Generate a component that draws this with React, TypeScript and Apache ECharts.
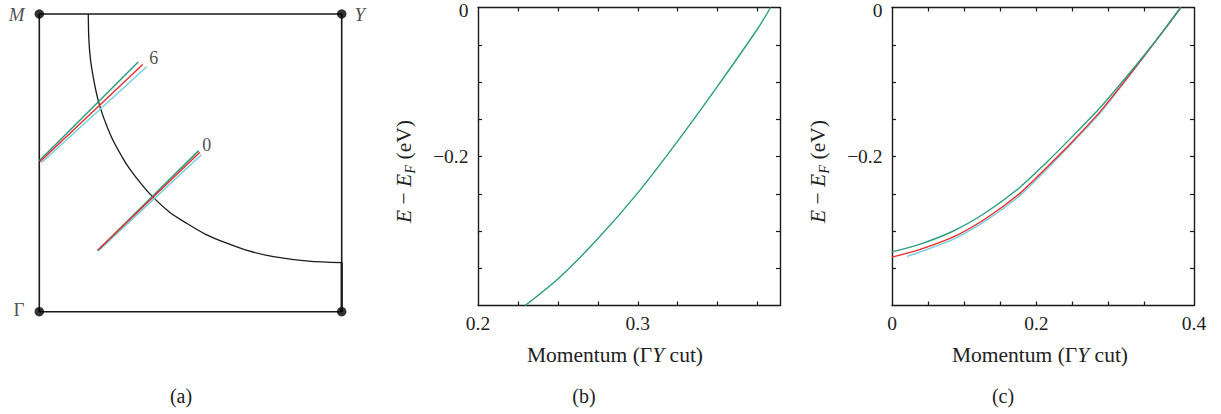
import React, { useEffect, useRef } from "react";
import * as echarts from "echarts";

const FONT = "'Liberation Serif', 'DejaVu Serif', serif";
const INK = "#1a1a1a";
const TXT = "#222";
const GREEN = "#2a9f7e";
const RED = "#f02a2a";
const CYAN = "#74cfe2";

// ---------- Panel (a): Brillouin-zone quadrant ----------
const bzSquare = [[0, 0], [0, 1], [1, 1], [1, 0], [0, 0]];
const bzCorners = [[0, 1], [1, 1], [0, 0], [1, 0]];
const bzCornerLabels = ["M", "Y", "Γ", ""];
const fsArc = [
  [0.162, 1.0], [0.164, 0.913], [0.1715, 0.83], [0.196, 0.705], [0.237, 0.59],
  [0.276, 0.516], [0.3, 0.478], [0.335, 0.432], [0.372, 0.389], [0.43, 0.335],
  [0.487, 0.297], [0.55, 0.26], [0.62, 0.23], [0.69, 0.205], [0.774, 0.185],
  [0.89, 0.17], [1.0, 0.165],
];
const fsEdge = [[1.0, 0.165], [1.0, 0.0]];
const cut6Green = [[0.0, 0.507], [0.327, 0.839]];
const cut6Red = [[0.002, 0.504], [0.342, 0.83]];
const cut6Cyan = [[0.008, 0.501], [0.355, 0.823]];
const cut0Green = [[0.192, 0.205], [0.527, 0.541]];
const cut0Red = [[0.194, 0.207], [0.531, 0.536]];
const cut0Cyan = [[0.196, 0.205], [0.536, 0.527]];
const cutLabels = ["6", "0"];

// ---------- Panel (b) ----------
const bCurve = [
  [0.2295, -0.4], [0.2503, -0.3638], [0.2751, -0.3101], [0.3, -0.2488],
  [0.3246, -0.1804], [0.3503, -0.1045], [0.3751, -0.0282], [0.3831, 0],
];
const bXMin = 0.2;
const bXMax = 0.389;
const bXTicks = [0.225, 0.25, 0.275, 0.3, 0.325, 0.35, 0.375];
const bXLabelValues = [0.2, 0.3];
const bXLabelTexts = ["0.2", "0.3"];

// ---------- Panel (c) ----------
const cGreen = [
  [0, -0.328], [0.038, -0.318], [0.085, -0.3], [0.131, -0.2745], [0.177, -0.2415],
  [0.215, -0.207], [0.248, -0.175], [0.284, -0.139], [0.3, -0.1215], [0.33, -0.087],
  [0.349, -0.0645], [0.376, -0.031], [0.4, 0],
];
const cRed = [
  [0, -0.335], [0.038, -0.325], [0.085, -0.308], [0.131, -0.2825], [0.177, -0.2495],
  [0.215, -0.214], [0.248, -0.182], [0.284, -0.1445], [0.3, -0.126], [0.33, -0.0895],
  [0.349, -0.0655], [0.376, -0.0313], [0.4, 0],
];
const cCyan = [
  [0.021, -0.334], [0.038, -0.3285], [0.085, -0.311], [0.131, -0.2855], [0.177, -0.2525],
  [0.215, -0.2165], [0.248, -0.1835], [0.284, -0.1465], [0.3, -0.1275], [0.33, -0.09],
  [0.349, -0.0657], [0.376, -0.0314], [0.4, 0],
];
const cXMin = 0;
const cXMax = 0.4183;
const cXTicks = [0.05, 0.1, 0.15, 0.2, 0.25, 0.3, 0.35];
const cXLabelValues = [0, 0.2, 0.4183];
const cXLabelTexts = ["0", "0.2", "0.4"];

// ---------- shared energy axis ----------
const yMin = -0.4;
const yMax = 0;
const yTicks = [-0.35, -0.3, -0.25, -0.2, -0.15, -0.1, -0.05];
const yLabelValues = [0, -0.2];
const yLabelTexts = ["0", "−0.2"];

const captions = ["(a)", "(b)", "(c)"];

function pick(values: number[], texts: string[], v: number) {
  for (let i = 0; i < values.length; i++) {
    if (Math.abs(values[i] - v) < 1e-6) return texts[i];
  }
  return "";
}

const axisLineStyle = { color: INK, width: 1.4 };
const tickStyle = { color: INK, width: 1.2 };
const TICK_FS = 19.5;
const NAME_FS = 21.5;

function xAxisPair(grid: number, min: number, max: number, ticks: number[], lv: number[], lt: string[], namePad: number) {
  const base = {
    type: "value",
    gridIndex: grid,
    min,
    max,
    splitLine: { show: false },
    axisLine: { show: true, onZero: false, lineStyle: axisLineStyle },
    axisTick: { show: true, inside: true, length: 4, customValues: ticks, lineStyle: tickStyle },
  };
  return [
    {
      ...base,
      position: "bottom",
      axisLabel: {
        show: true,
        customValues: lv,
        formatter: (v: number) => pick(lv, lt, v),
        margin: 8,
        fontFamily: FONT,
        fontSize: TICK_FS,
        color: TXT,
      },
      name: "Momentum (Γ{i|Y} cut)",
      nameLocation: "middle",
      nameGap: 38,
      nameTextStyle: {
        fontFamily: FONT,
        fontSize: NAME_FS,
        color: TXT,
        padding: [0, namePad, 0, 0],
        rich: { i: { fontFamily: FONT, fontSize: NAME_FS, fontStyle: "italic", color: TXT } },
      },
    },
    { ...base, position: "top", axisLabel: { show: false } },
  ];
}

function yAxisPair(grid: number) {
  const base = {
    type: "value",
    gridIndex: grid,
    min: yMin,
    max: yMax,
    splitLine: { show: false },
    axisLine: { show: true, onZero: false, lineStyle: axisLineStyle },
    axisTick: { show: true, inside: true, length: 4, customValues: yTicks, lineStyle: tickStyle },
  };
  return [
    {
      ...base,
      position: "left",
      axisLabel: {
        show: true,
        customValues: yLabelValues,
        formatter: (v: number) => {
          const t = pick(yLabelValues, yLabelTexts, v);
          return Math.abs(v - yMax) < 1e-9 ? "{top|" + t + "}" : t;
        },
        margin: 9.5,
        fontFamily: FONT,
        fontSize: TICK_FS,
        color: TXT,
        rich: {
          top: { fontFamily: FONT, fontSize: TICK_FS, color: TXT, lineHeight: 8, padding: [6, 0, 0, 0] },
        },
      },
      name: "{i|E} − {i|E}{s|F} (eV)",
      nameLocation: "middle",
      nameGap: 61,
      nameTextStyle: {
        fontFamily: FONT,
        fontSize: NAME_FS,
        color: TXT,
        padding: [0, 30, 0, 0],
        rich: {
          i: { fontFamily: FONT, fontSize: NAME_FS, fontStyle: "italic", color: TXT },
          s: { fontFamily: FONT, fontSize: 14.5, fontStyle: "italic", color: TXT, padding: [11, 0, 0, 0] },
        },
      },
    },
    { ...base, position: "right", axisLabel: { show: false } },
  ];
}

function line(data: number[][], color: string, width: number, xi: number, yi: number, smooth: number | boolean = false, z = 2) {
  return {
    type: "line",
    xAxisIndex: xi,
    yAxisIndex: yi,
    data,
    symbol: "none",
    smooth,
    clip: false,
    z,
    lineStyle: { color, width },
    emphasis: { disabled: true },
    silent: true,
  };
}

function buildOption() {
  const hidden = { type: "value", gridIndex: 0, min: 0, max: 1, show: false };
  const xb = xAxisPair(1, bXMin, bXMax, bXTicks, bXLabelValues, bXLabelTexts, 28);
  const xc = xAxisPair(2, cXMin, cXMax, cXTicks, cXLabelValues, cXLabelTexts, 6);
  const yb = yAxisPair(1);
  const yc = yAxisPair(2);

  const cornerData = bzCorners.map((p, i) => {
    const t = bzCornerLabels[i];
    const left = p[0] === 0;
    return {
      value: p,
      label: {
        show: t !== "",
        formatter: t,
        position: left ? "left" : "right",
        distance: left ? 10 : 8,
        fontFamily: FONT,
        fontSize: 19,
        fontStyle: t === "Γ" ? "normal" : "italic",
        color: TXT,
        offset: t === "Γ" ? [0, -2] : [0, 0],
      },
    };
  });

  const cutEnds = [cut6Red[cut6Red.length - 1], cut0Red[cut0Red.length - 1]];
  const cutLabelData = cutEnds.map((p, i) => ({
    value: p,
    label: {
      show: true,
      formatter: cutLabels[i],
      position: "right",
      distance: i === 0 ? 6 : 2,
      offset: [0, -7],
      fontFamily: FONT,
      fontSize: 18,
      color: TXT,
    },
  }));

  const curve = (data: number[][], color: string) => ({
    ...line(data, color, 1.4, 0, 0, 0.3),
    clip: true,
  });

  const capStyle = (t: string) => ({
    text: t,
    align: "center",
    verticalAlign: "middle",
    fontFamily: FONT,
    fontSize: 20,
    fill: TXT,
  });

  return {
    animation: false,
    backgroundColor: "#ffffff",
    textStyle: { fontFamily: FONT },
    grid: [
      { left: 39.3, top: 14, width: 302.4, height: 297.7, outerBoundsMode: "none" },
      { left: 478, top: 7.5, width: 302, height: 298, outerBoundsMode: "none" },
      { left: 892, top: 7.5, width: 302, height: 298, outerBoundsMode: "none" },
    ],
    xAxis: [hidden, ...xb, ...xc],
    yAxis: [{ ...hidden }, ...yb, ...yc],
    series: [
      line(bzSquare, INK, 1.6, 0, 0),
      line(fsArc, INK, 1.3, 0, 0, 0.3),
      line(fsEdge, INK, 2.2, 0, 0),
      line(cut6Cyan, CYAN, 1.5, 0, 0, false, 3),
      line(cut6Green, GREEN, 1.5, 0, 0, false, 3),
      line(cut6Red, RED, 1.4, 0, 0, false, 4),
      line(cut0Cyan, CYAN, 1.5, 0, 0, false, 3),
      line(cut0Green, GREEN, 1.5, 0, 0, false, 3),
      line(cut0Red, RED, 1.4, 0, 0, false, 4),
      {
        type: "scatter",
        xAxisIndex: 0,
        yAxisIndex: 0,
        data: cutLabelData,
        symbolSize: 1,
        itemStyle: { color: "rgba(0,0,0,0)" },
        silent: true,
        z: 5,
      },
      {
        type: "scatter",
        xAxisIndex: 0,
        yAxisIndex: 0,
        data: cornerData,
        symbol: "circle",
        symbolSize: 9.5,
        itemStyle: { color: "#000" },
        silent: true,
        z: 6,
      },
      { ...curve(bCurve, GREEN), xAxisIndex: 1, yAxisIndex: 1 },
      { ...curve(cCyan, CYAN), xAxisIndex: 3, yAxisIndex: 3 },
      { ...curve(cRed, RED), xAxisIndex: 3, yAxisIndex: 3 },
      { ...curve(cGreen, GREEN), xAxisIndex: 3, yAxisIndex: 3 },
    ],
    graphic: [
      { type: "text", x: 181, y: 396, style: capStyle(captions[0]) },
      { type: "text", x: 584, y: 396, style: capStyle(captions[1]) },
      { type: "text", x: 1003, y: 396, style: capStyle(captions[2]) },
    ],
  };
}

export default function App() {
  const ref = useRef<HTMLDivElement>(null);
  useEffect(() => {
    const chart = echarts.init(ref.current!, null, { renderer: "svg" });
    chart.setOption(buildOption() as any);
    return () => chart.dispose();
  }, []);
  return (
    <div
      ref={ref}
      style={{ position: "absolute", left: 0, top: 0, width: 1221, height: 414, background: "#fff" }}
    />
  );
}
